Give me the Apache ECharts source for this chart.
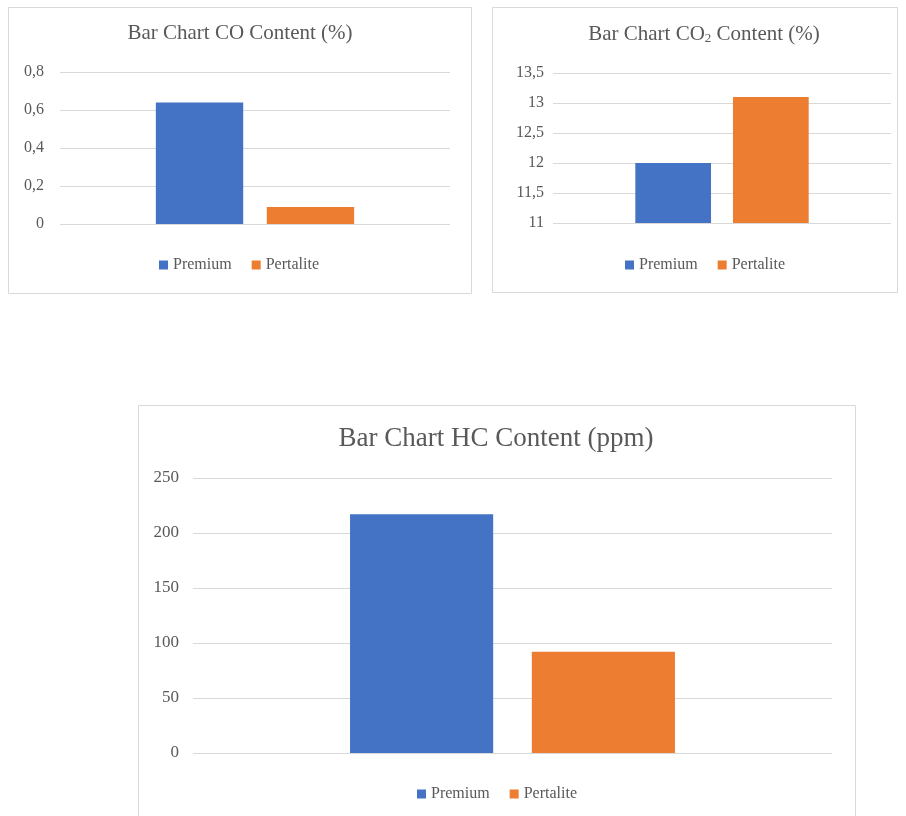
<!DOCTYPE html>
<html>
<head>
<meta charset="utf-8">
<script src="https://cdn.jsdelivr.net/npm/echarts@6/dist/echarts.min.js"></script>
<style>
  html, body { margin: 0; padding: 0; background: #fff; }
  #main { width: 906px; height: 816px; }
</style>
</head>
<body>
<div id="main"></div>
<script>
// data
var categories = [''];
var seriesNames = ['Premium', 'Pertalite'];
var coPremium = [0.64];
var coPertalite = [0.09];
var co2Premium = [12.0];
var co2Pertalite = [13.1];
var hcPremium = [217];
var hcPertalite = [92];

var blue = '#4472C4';
var orange = '#ED7D31';
var textColor = '#595959';
var gridColor = '#d9d9d9';
var font = 'Liberation Serif';

// decimal comma like the original
function comma(v) {
  return String(v).replace('.', ',');
}

function xAxis(idx) {
  return {
    type: 'category',
    gridIndex: idx,
    data: categories,
    axisLine: { show: false },
    axisTick: { show: false },
    axisLabel: { show: false }
  };
}

function yAxis(idx, min, max, step, size, margin) {
  return {
    type: 'value',
    gridIndex: idx,
    min: min,
    max: max,
    interval: step,
    axisLine: { show: false },
    axisTick: { show: false },
    splitLine: { lineStyle: { color: gridColor, width: 1 } },
    axisLabel: {
      color: textColor,
      fontFamily: font,
      fontSize: size,
      margin: margin,
      formatter: comma
    }
  };
}

function bars(idx, name, data, color, gap) {
  return {
    name: name,
    type: 'bar',
    xAxisIndex: idx,
    yAxisIndex: idx,
    data: data,
    barWidth: '22.4%',
    barGap: gap || '27%',
    itemStyle: { color: color },
    silent: true
  };
}

function legend(left, top, size) {
  return {
    data: seriesNames,
    left: left,
    top: top,
    align: 'left',
    icon: 'rect',
    itemWidth: 9,
    itemHeight: 9,
    itemGap: 20,
    padding: 0,
    textStyle: { color: textColor, fontFamily: font, fontSize: size }
  };
}

var myChart = echarts.init(document.getElementById('main'));

var option = {
  animation: false,
  graphic: [
    { type: 'rect', shape: { x: 8.5, y: 7.5, width: 463, height: 286 }, style: { fill: '#fff', stroke: gridColor, lineWidth: 1 }, z: -10 },
    { type: 'rect', shape: { x: 492.5, y: 7.5, width: 405, height: 285 }, style: { fill: '#fff', stroke: gridColor, lineWidth: 1 }, z: -10 },
    { type: 'rect', shape: { x: 138.5, y: 405.5, width: 717, height: 420 }, style: { fill: '#fff', stroke: gridColor, lineWidth: 1 }, z: -10 }
  ],
  title: [
    {
      text: 'Bar Chart CO Content (%)',
      left: 240, top: 23, textAlign: 'center', padding: 0,
      textStyle: { color: textColor, fontFamily: font, fontSize: 21, fontWeight: 'normal' }
    },
    {
      text: '{a|Bar Chart CO}{s|2}{a| Content (%)}',
      left: 704, top: 21, textAlign: 'center', padding: 0,
      textStyle: {
        fontWeight: 'normal',
        rich: {
          a: { color: textColor, fontFamily: font, fontSize: 21, fontWeight: 'normal', lineHeight: 26 },
          s: { color: textColor, fontFamily: font, fontSize: 13, fontWeight: 'normal', lineHeight: 26, padding: [9, 0, 0, 0] }
        }
      }
    },
    {
      text: 'Bar Chart HC Content (ppm)',
      left: 496, top: 425, textAlign: 'center', padding: 0,
      textStyle: { color: textColor, fontFamily: font, fontSize: 27, fontWeight: 'normal' }
    }
  ],
  legend: [
    legend(159, 257, 16),
    legend(625, 257, 16),
    legend(417, 786, 16)
  ],
  grid: [
    { left: 60, top: 72, width: 390, height: 152 },
    { left: 553, top: 73, width: 338, height: 150 },
    { left: 193, top: 478, width: 639, height: 275 }
  ],
  xAxis: [xAxis(0), xAxis(1), xAxis(2)],
  yAxis: [
    yAxis(0, 0, 0.8, 0.2, 16, 16),
    yAxis(1, 11, 13.5, 0.5, 16, 9),
    yAxis(2, 0, 250, 50, 17, 14)
  ],
  series: [
    bars(0, 'Premium', coPremium, blue),
    bars(0, 'Pertalite', coPertalite, orange),
    bars(1, 'Premium', co2Premium, blue, '29%'),
    bars(1, 'Pertalite', co2Pertalite, orange, '29%'),
    bars(2, 'Premium', hcPremium, blue),
    bars(2, 'Pertalite', hcPertalite, orange)
  ]
};

option && myChart.setOption(option);
</script>
</body>
</html>
